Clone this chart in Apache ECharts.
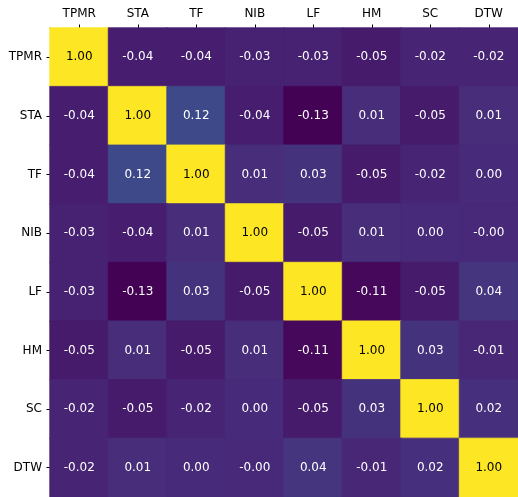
<!DOCTYPE html>
<html>
<head>
<meta charset="utf-8">
<script src="https://cdn.jsdelivr.net/npm/echarts@6/dist/echarts.min.js"></script>
<style>
  html, body { margin: 0; padding: 0; background: #fff; }
  #chart { width: 518px; height: 497px; }
</style>
</head>
<body>
<div id="chart"></div>
<script>
var labels = ['TPMR', 'STA', 'TF', 'NIB', 'LF', 'HM', 'SC', 'DTW'];

// correlation rows, same order as labels
var rowTPMR = [1.00, -0.04, -0.04, -0.03, -0.03, -0.05, -0.02, -0.02];
var rowSTA = [-0.04, 1.00, 0.12, -0.04, -0.13, 0.01, -0.05, 0.01];
var rowTF = [-0.04, 0.12, 1.00, 0.01, 0.03, -0.05, -0.02, 0.00];
var rowNIB = [-0.03, -0.04, 0.01, 1.00, -0.05, 0.01, 0.00, -0.003];
var rowLF = [-0.03, -0.13, 0.03, -0.05, 1.00, -0.11, -0.05, 0.04];
var rowHM = [-0.05, 0.01, -0.05, 0.01, -0.11, 1.00, 0.03, -0.01];
var rowSC = [-0.02, -0.05, -0.02, 0.00, -0.05, 0.03, 1.00, 0.02];
var rowDTW = [-0.02, 0.01, 0.00, -0.003, 0.04, -0.01, 0.02, 1.00];

var rows = [rowTPMR, rowSTA, rowTF, rowNIB, rowLF, rowHM, rowSC, rowDTW];

var viridis = ['#440154', '#482878', '#3e4989', '#31688e', '#26828e',
  '#1f9e89', '#35b779', '#6ece58', '#b5de2b', '#fde725'];
var vmin = -0.134, vmax = 1;

var cells = [];
rows.forEach(function (row, i) {
  row.forEach(function (v, j) {
    var c = echarts.color.lerp((v - vmin) / (vmax - vmin), viridis);
    cells.push({
      value: [j, i, v],
      // border in the cell's own colour hides seams between cells
      itemStyle: { color: c, borderColor: c, borderWidth: 0.8 },
      label: { color: v > 0.5 ? '#000' : '#fff' }
    });
  });
});

var chart = echarts.init(document.getElementById('chart'));
var font = 'DejaVu Sans';

chart.setOption({
  animation: false,
  textStyle: { fontFamily: font },
  grid: { left: 50, top: 28, width: 469, height: 469 },
  xAxis: {
    type: 'category',
    position: 'top',
    data: labels,
    axisLine: { show: true, lineStyle: { color: '#000', width: 1 } },
    axisTick: { show: true, alignWithLabel: true, length: 3.5, lineStyle: { color: '#000' } },
    axisLabel: { color: '#000', fontSize: 12, margin: 8, fontFamily: font },
    splitLine: { show: false }
  },
  yAxis: {
    type: 'category',
    inverse: true,
    data: labels,
    axisLine: { show: true, lineStyle: { color: '#000', width: 1 } },
    axisTick: { show: true, alignWithLabel: true, length: 3.5, lineStyle: { color: '#000' } },
    axisLabel: { color: '#000', fontSize: 12, margin: 8, fontFamily: font },
    splitLine: { show: false }
  },
  series: [{
    type: 'heatmap',
    data: cells,
    label: {
      show: true,
      fontSize: 12,
      fontFamily: font,
      formatter: function (p) { return p.value[2].toFixed(2); }
    }
  }]
});
</script>
</body>
</html>
